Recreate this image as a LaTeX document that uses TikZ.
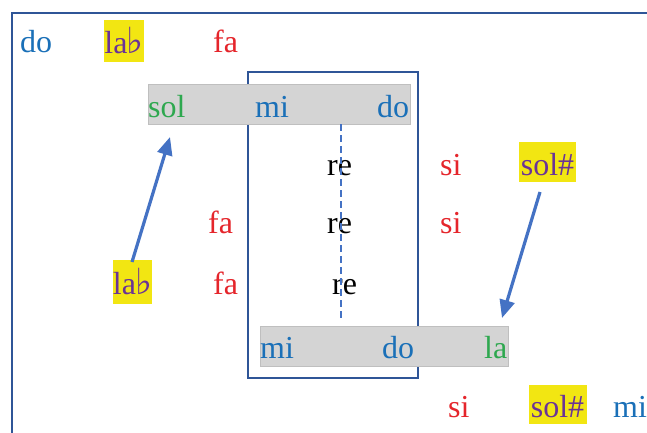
\documentclass[tikz,border=0pt]{standalone}
\usepackage{fontspec}
\setmainfont{Liberation Serif}
\newfontfamily\flatfont{DejaVu Serif}
\usetikzlibrary{arrows.meta}
\definecolor{frameblue}{HTML}{2F5597}
\definecolor{arrowblue}{HTML}{4472C4}
\definecolor{tblue}{HTML}{1A70B8}
\definecolor{tred}{HTML}{E5252B}
\definecolor{tgreen}{HTML}{2EA84F}
\definecolor{tpurple}{HTML}{6A3397}
\definecolor{hlyellow}{HTML}{F2E612}
\definecolor{bargray}{HTML}{D4D4D4}
\definecolor{bardraw}{HTML}{BFBFBF}
\tikzset{
  txt/.style={font=\fontsize{32}{38}\selectfont, inner sep=0pt, anchor=base west},
  hl/.style={font=\fontsize{32}{38}\selectfont, fill=hlyellow, text=tpurple, anchor=base, inner xsep=0pt, inner ysep=0pt},
  flat/.style={},
  bar/.style={fill=bargray, draw=bardraw, line width=0.6pt},
  frame/.style={draw=frameblue, line width=2.8pt},
  conn/.style={draw=arrowblue, line width=3.2pt, -{Triangle[length=18pt,width=15pt]}},
}
\newcommand{\flatsign}{{\flatfont\fontsize{36}{40}\selectfont ♭}}
\begin{document}
\begin{tikzpicture}[x=1pt,y=-1pt]
\useasboundingbox (0,0) rectangle (647,432);
\clip (0,0) rectangle (647,432);
\fill[white] (0,0) rectangle (647,432);
% outer frame (clipped at right and bottom)
\draw[frame] (12,13) rectangle (680,460);
% inner rectangle
\draw[frame] (248,72) rectangle (418,378);
% grey bars
\path[bar] (148,84) rectangle (410,124);
\path[bar] (260,326) rectangle (508,366);
% row 0
\node[txt, text=tblue] (do1) at (20,52) {do};
\node[hl, minimum width=38pt, text height=33pt, text depth=9pt] (lab1) at (124,53) {la\kern-1pt\flatsign};
\node[txt, text=tred] (fa1) at (213,52) {fa};
% top bar
\node[txt, text=tgreen] (sol1) at (148,117) {sol};
\node[txt, text=tblue] (mi1) at (255,117) {mi};
\node[txt, text=tblue] (do2) at (377,117) {do};
% row re 1
\node[txt, text=black] (re1) at (327,175) {re};
\node[txt, text=tred] (si1) at (440,175) {si};
\node[hl, minimum width=57pt, text height=33pt, text depth=7pt] (solsharp1) at (547.5,175) {sol\#};
% row re 2
\node[txt, text=tred] (fa2) at (208,233) {fa};
\node[txt, text=black] (re2) at (327,233) {re};
\node[txt, text=tred] (si2) at (440,233) {si};
% row re 3
\node[hl, minimum width=39pt, text height=34pt, text depth=10pt] (lab2) at (132.5,294) {la\kern-1pt\flatsign};
\node[txt, text=tred] (fa3) at (213,294) {fa};
\node[txt, text=black] (re3) at (332,294) {re};
% bottom bar
\node[txt, text=tblue] (mi2) at (260,358) {mi};
\node[txt, text=tblue] (do3) at (382,358) {do};
\node[txt, text=tgreen] (la1) at (484,358) {la};
% bottom row
\node[txt, text=tred] (si3) at (448,417) {si};
\node[hl, minimum width=58pt, text height=32pt, text depth=7pt] (solsharp2) at (557.5,417) {sol\#};
\node[txt, text=tblue] (mi3) at (613,417) {mi};
% dashed line
\coordinate (dtop) at (341,124);
\coordinate (dbot) at (341,318);
\draw[arrowblue, line width=2.4pt, dash pattern=on 7pt off 4pt] (dtop) -- (dbot);
% arrows
\coordinate (a1s) at (132,262);
\coordinate (a1e) at (170,137);
\coordinate (a2s) at (540,192);
\coordinate (a2e) at (502,318);
\draw[conn] (a1s) -- (a1e);
\draw[conn] (a2s) -- (a2e);
\end{tikzpicture}
\end{document}
